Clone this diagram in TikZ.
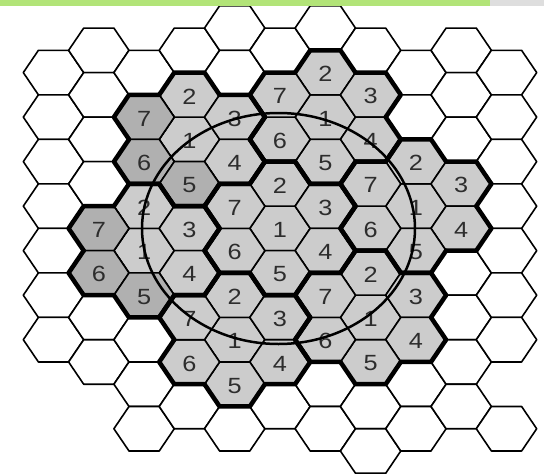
\documentclass[tikz,border=0pt]{standalone}
\usepackage{fontspec}
\setmainfont{Liberation Sans}
\newfontfamily\digitfont[FakeStretch=1.15]{Liberation Sans}
\definecolor{bargreen}{RGB}{178,228,120}
\definecolor{bargray}{RGB}{222,222,222}
\definecolor{cellfill}{RGB}{204,204,204}
\definecolor{celldark}{RGB}{176,176,176}
\definecolor{digitgray}{RGB}{45,45,45}
\tikzset{
  hexcell/.style={draw=black, line width=1.6pt, line join=round, fill=white},
  usedcell/.style={hexcell, fill=cellfill},
  darkcell/.style={hexcell, fill=celldark},
  clusterline/.style={draw=black, line width=4.5pt, line join=round, line cap=round},
  celldigit/.style={font=\digitfont\fontsize{22}{22}\selectfont, text=digitgray, inner sep=0pt},
  rangeline/.style={draw=black, line width=2.5pt}
}
% hexagon round a centre, flat top and bottom
\newcommand\hexshape[2]{(#1+30.2,#2) -- (#1+15.1,#2-22.26) -- (#1-15.1,#2-22.26) -- (#1-30.2,#2) -- (#1-15.1,#2+22.26) -- (#1+15.1,#2+22.26) -- cycle}

\begin{document}
\begin{tikzpicture}[x=1pt, y=-1pt]
  \useasboundingbox (0,0) rectangle (544,474);

  % Draw the whole grid of cells
  \foreach \i/\rlo/\rhi in {-5/-7/5, -4/-8/6, -3/-7/9, -2/-8/8, -1/-9/9, 0/-8/8, 1/-9/9, 2/-8/10, 3/-7/9, 4/-8/8, 5/-7/5} {
    \pgfmathtruncatemacro\rnext{\rlo+2}
    \foreach \r in {\rlo,\rnext,...,\rhi} {
      \pgfmathsetmacro\cx{280+45.3*\i}
      \pgfmathsetmacro\cy{228.4+22.26*\r}
      \path[hexcell] \hexshape{\cx}{\cy};
    }
  }
  \pgfmathsetmacro\cx{280+45.3*5}
  \pgfmathsetmacro\cy{228.4+22.26*9}
  \path[hexcell] \hexshape{\cx}{\cy};

  % Shade the seven clusters
  \foreach \ci/\cr in {0/0, -2/-4, 1/-5, 3/-1, 2/4, -1/5, -3/1} {
    \foreach \di/\dr in {0/0, 0/-2, 1/-1, 1/1, 0/2, -1/1, -1/-1} {
      \pgfmathsetmacro\cx{280+45.3*(\ci+\di)}
      \pgfmathsetmacro\cy{228.4+22.26*(\cr+\dr)}
      \path[usedcell] \hexshape{\cx}{\cy};
    }
  }
  \foreach \i/\r in {-3/-5, -3/-3, -2/-2, -4/0, -4/2, -3/3} {
    \pgfmathsetmacro\cx{280+45.3*\i}
    \pgfmathsetmacro\cy{228.4+22.26*\r}
    \path[darkcell] \hexshape{\cx}{\cy};
  }

  % Thick outline of each cluster
  \foreach \ci/\cr in {0/0, -2/-4, 1/-5, 3/-1, 2/4, -1/5, -3/1} {
    \foreach \di/\dr/\m in {1/-1/0, 0/-2/1, -1/-1/2, -1/1/3, 0/2/4, 1/1/5} {
      \pgfmathsetmacro\cx{280+45.3*(\ci+\di)}
      \pgfmathsetmacro\cy{228.4+22.26*(\cr+\dr)}
      \draw[clusterline]
        ({\cx+30.2*cos(60*\m-60)}, {\cy-25.7*sin(60*\m-60)}) --
        ({\cx+30.2*cos(60*\m)}, {\cy-25.7*sin(60*\m)}) --
        ({\cx+30.2*cos(60*\m+60)}, {\cy-25.7*sin(60*\m+60)}) --
        ({\cx+30.2*cos(60*\m+120)}, {\cy-25.7*sin(60*\m+120)});
    }
  }

  % Channel numbers
  \foreach \ci/\cr/\k in {0/0/C, -2/-4/A, 1/-5/B, 3/-1/D, 2/4/E, -1/5/F, -3/1/G} {
    \foreach \di/\dr/\n in {0/0/1, 0/-2/2, 1/-1/3, 1/1/4, 0/2/5, -1/1/6, -1/-1/7} {
      \pgfmathsetmacro\cx{280+45.3*(\ci+\di)}
      \pgfmathsetmacro\cy{228.4+22.26*(\cr+\dr)+1.5}
      \node[celldigit] (d\k\n) at (\cx,\cy) {\n};
    }
  }

  % Range circle
  \draw[rangeline] (278.5,228.5) ellipse [x radius=136.5pt, y radius=115.5pt];

  % Banner at the top
  \fill[bargreen] (0,0) rectangle (490,6);
  \fill[bargray] (490,0) rectangle (544,6);
\end{tikzpicture}
\end{document}
